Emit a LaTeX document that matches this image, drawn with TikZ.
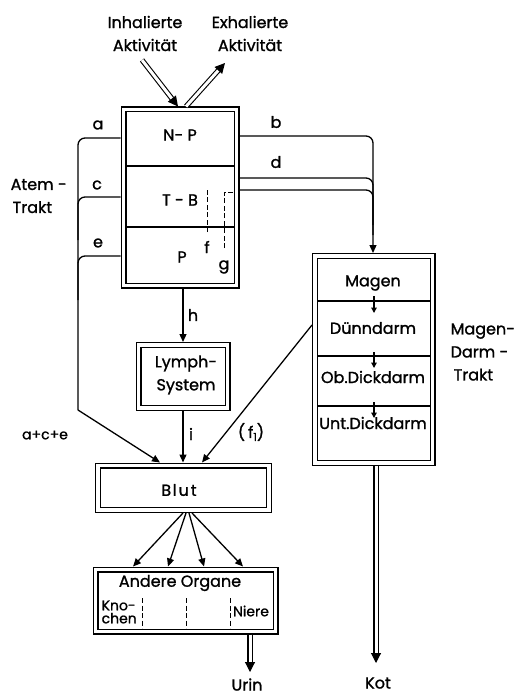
\documentclass[tikz,border=0pt]{standalone}
\usepackage{fontspec}
\setmainfont{Poppins}[FakeBold=1.2]
\usetikzlibrary{arrows.meta,calc}
\begin{document}
\begin{tikzpicture}[x=1pt,y=-1pt,
  line width=1.3pt,
  dbox/.style={draw, double, double distance=3.6pt, line width=1.2pt,
    inner sep=0pt, outer sep=3pt},
  lbl/.style={font=\fontsize{16}{23}\selectfont, inner sep=0pt, align=center},
  letter/.style={font=\fontsize{16}{16}\selectfont, inner sep=0pt},
  small/.style={font=\fontsize{14}{15}\selectfont, inner sep=0pt, align=left},
  tip/.style={-{Triangle[length=8pt,width=7pt]}},
  smalltip/.style={-{Triangle[length=5.5pt,width=5.5pt]}},
  flow/.style={double, double distance=3pt, line width=1.1pt,
    -{Triangle[length=10pt,width=10pt]}},
  compart/.style={dash pattern=on 5pt off 2.5pt, line width=1pt},
  roundbend/.style={rounded corners=7pt},
]
\useasboundingbox (0,0) rectangle (519,695);

% ---- compartment boxes ----
\node[dbox, minimum width=113pt, minimum height=176pt] (lung) at (180,197.5) {};
\node[dbox, minimum width=117.5pt, minimum height=207pt] (gi) at (373.75,359.5) {};
\node[dbox, minimum width=89pt, minimum height=63pt] (lymph) at (183,376.5) {};
\node[dbox, minimum width=171pt, minimum height=44.5pt] (blut) at (183.5,487.75) {};
\node[dbox, minimum width=180pt, minimum height=62pt] (organe) at (185.5,600.5) {};

% lung regions
\draw (126.5,166) -- (234.5,166);
\draw (126.5,227) -- (234.5,227);
\node[lbl] (np) at (180,135) {N- P};
\node[lbl] (tb) at (180,200) {T - B};
\node[lbl] (pu) at (182,257) {P};

% gastro-intestinal sections
\draw (317.5,301) -- (430,301);
\draw (317.5,356) -- (430,356);
\draw (317.5,406) -- (430,406);
\node[lbl] (mag) at (373,283) {Magen};
\node[lbl] (dd) at (373,328) {Dünndarm};
\node[lbl] (odd) at (373,377) {Ob.Dickdarm};
\node[lbl] (udd) at (373,423) {Unt.Dickdarm};
\draw[smalltip] (374,296) -- (374,313);
\draw[smalltip] (374,352) -- (374,368);
\draw[smalltip] (374,402) -- (374,418);

% lymph, blood, organs
\node[lbl] (lyt) at (186,375) {Lymph-\\System};
\node[lbl] (blt) at (179,490) {B\kern1.5pt l\kern2pt u\kern2pt t};
\node[lbl] (aot) at (180,583) {Andere Organe};
\node[small, anchor=west] (kn) at (101,612) {Kno-\\[-2pt]chen};
\node[small] (ni) at (251,611) {Niere};
\draw[compart] (142,598) -- (142,628);
\draw[compart] (186,598) -- (186,628);
\draw[compart] (230,598) -- (230,628);

% ---- intake and exhalation ----
\node[lbl] (inh) at (145,33.5) {Inhalierte\\Aktivität};
\node[lbl] (exh) at (250,33.5) {Exhalierte\\Aktivität};
\coordinate (inA) at (142,60);
\coordinate (exA) at (225,63);
\draw[flow] (inA) -- (lung.north -| 178,0);
\draw[flow] (lung.north -| 186,0) -- (exA);

% ---- respiratory tract to blood ----
\node[lbl, align=left, anchor=west] (atem) at (10,196) {Atem -\\\kern2pt Trakt};
\coordinate (knee) at (78,410);
\draw[roundbend] (lung.west |- 0,138) -| (78,300) [sharp corners] -- (knee);
\draw[roundbend] (lung.west |- 0,197) -| (78,240);
\draw[roundbend] (lung.west |- 0,256) -| (78,300);
\draw[tip] (knee) -- (blut.north -| 160,0);
\node[letter] (la) at (98,125) {a};
\node[letter] (lc) at (97,185) {c};
\node[letter] (le) at (98,243) {e};
\node[small] (ace) at (45,435) {a+c+e};

% ---- respiratory tract to GI tract ----
\draw[roundbend, tip] (lung.east |- 0,136) -| (gi.north -| 373,0);
\draw[roundbend] (lung.east |- 0,178) -| (373,225);
\draw[roundbend] (lung.east |- 0,190) -| (373,235);
\draw[compart] (224,248) -- (224,192) -- (234,192);
\draw[compart] (207,232) -- (207,190);
\node[letter] (lb) at (276,122) {b};
\node[letter] (ld) at (276,162) {d};
\node[letter] (lf) at (207,247) {f};
\node[letter] (lg) at (224,267) {g};

% ---- lymph and transfer to blood ----
\draw[tip] (lung.south -| 183,0) -- (lymph.north -| 183,0);
\node[letter] (lh) at (193,315) {h};
\draw[tip] (lymph.south -| 183,0) -- (blut.north -| 183,0);
\node[letter] (li) at (191,434) {i};
\draw[tip] (gi.west |- 0,325) -- (blut.north -| 202,0);
\node[lbl] (lf1) at (251,432) {(\kern3pt f\raisebox{-3pt}{\fontsize{11}{11}\selectfont 1})};

% ---- blood to organs ----
\draw[tip] (blut.south -| 183,0) -- (organe.north -| 133,0);
\draw[tip] (blut.south -| 186,0) -- (organe.north -| 168,0);
\draw[tip] (blut.south -| 189,0) -- (organe.north -| 204,0);
\draw[tip] (blut.south -| 192,0) -- (organe.north -| 243,0);

% ---- excretion ----
\node[lbl, align=left, anchor=west] (gitl) at (450,352) {Magen-\\Darm -\\\kern3pt Trakt};
\coordinate (kotA) at (376,663);
\draw[flow] (gi.south -| 376,0) -- (kotA);
\node[lbl] (kot) at (378,683) {Kot};
\coordinate (urA) at (250,672);
\draw[flow] (organe.south -| 250,0) -- (urA);
\node[lbl] (urin) at (247,684.5) {Urin};
\end{tikzpicture}
\end{document}
